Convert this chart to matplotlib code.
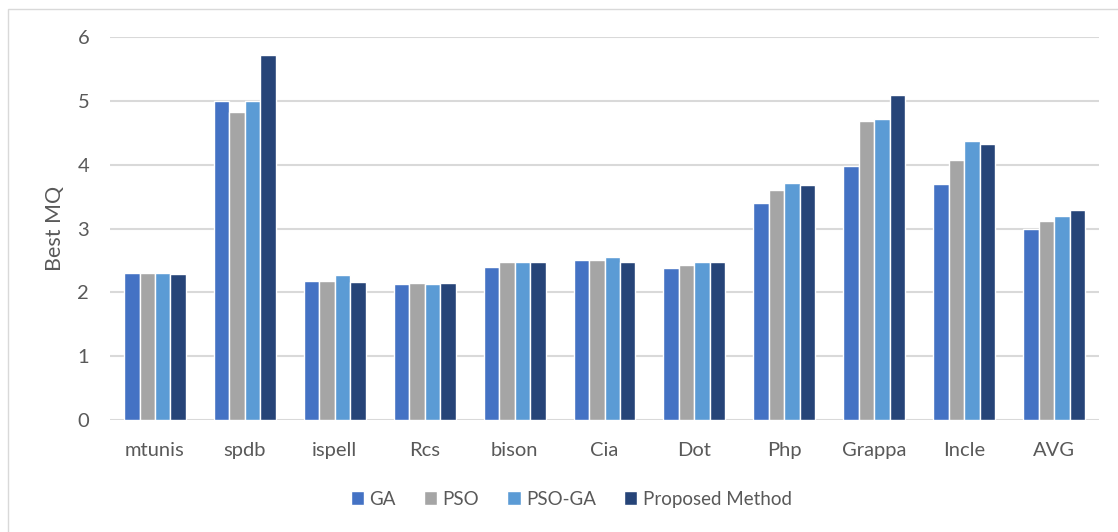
import numpy as np
import matplotlib.pyplot as plt
from matplotlib.patches import Rectangle

plt.rcParams['font.family'] = ['Lato', 'DejaVu Sans']

categories = ["mtunis", "spdb", "ispell", "Rcs", "bison", "Cia", "Dot",
              "Php", "Grappa", "Incle", "AVG"]
ga = [2.30, 5.00, 2.18, 2.13, 2.40, 2.51, 2.39, 3.41, 3.99, 3.70, 3.00]
pso = [2.30, 4.83, 2.18, 2.15, 2.47, 2.51, 2.43, 3.60, 4.68, 4.07, 3.12]
pso_ga = [2.30, 5.00, 2.28, 2.135, 2.47, 2.55, 2.47, 3.72, 4.72, 4.38, 3.20]
proposed = [2.29, 5.73, 2.16, 2.145, 2.47, 2.48, 2.47, 3.68, 5.10, 4.33, 3.29]

series = [("GA", ga, "#4472C4"),
          ("PSO", pso, "#A5A5A5"),
          ("PSO-GA", pso_ga, "#5B9BD5"),
          ("Proposed Method", proposed, "#264478")]

TEXT = "#595959"

fig = plt.figure(figsize=(11.18, 5.32), dpi=100)
ax = fig.add_axes([0.0984, 0.2105, 0.8846, 0.7194])

x = np.arange(len(categories))
slot = 0.172
for i, (name, vals, color) in enumerate(series):
    ax.bar(x + (i - 1.5) * slot, vals, width=slot, color=color,
           edgecolor="white", linewidth=1.0, label=name, zorder=3)

ax.set_xlim(-0.5, len(categories) - 0.5)
ax.set_ylim(0, 6)
ax.set_yticks(range(0, 7))
ax.set_xticks(x)
ax.set_xticklabels(categories)
ax.tick_params(axis="both", length=0, labelsize=14.5, colors=TEXT)
ax.tick_params(axis="y", pad=15)
ax.tick_params(axis="x", pad=16)
ax.grid(axis="y", color="#D9D9D9", linewidth=1.5, zorder=0)
for s in ax.spines.values():
    s.set_visible(False)

ax.set_ylabel("Best MQ", fontsize=15.5, color=TEXT, labelpad=9)

leg = fig.legend(loc="center", bbox_to_anchor=(0.511, 0.062), ncol=4,
                 frameon=False, fontsize=13.5, handlelength=0.7,
                 handleheight=0.7, handletextpad=0.3, columnspacing=1.5)
for t in leg.get_texts():
    t.set_color(TEXT)

# thin outer frame of the chart area
fig.patches.append(Rectangle((7.5 / 1118, -0.1), 1.2, 1 - 9 / 532 + 0.1,
                             transform=fig.transFigure, fill=False,
                             edgecolor="#D9D9D9", linewidth=1.0))

fig.savefig("out.png", dpi=100)
